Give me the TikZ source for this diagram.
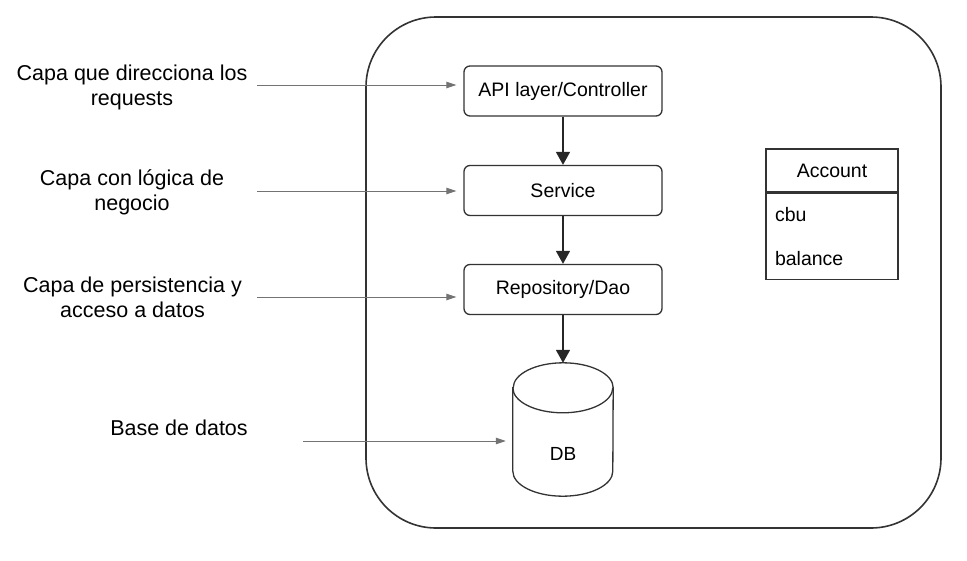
\documentclass[tikz,border=0pt]{standalone}
\usepackage{fontspec}
\setmainfont{Liberation Sans}
\usepackage{tikz}
\usetikzlibrary{arrows.meta,positioning}

\tikzset{
  layer/.style={draw=black!80, line width=1.3pt, rounded corners=6pt, minimum width=198pt, minimum height=50pt, font=\fontsize{19.5}{23}\selectfont},
  note/.style={align=center, font=\fontsize{21.5}{25.5}\selectfont},
  flow/.style={-{Triangle[length=13pt,width=14pt]}, line width=1.6pt, black!85},
  hint/.style={-{Triangle[length=10pt,width=6.5pt]}, line width=1pt, black!55, shorten >=7pt},
  entity/.style={draw=black!80, line width=1.3pt, minimum width=132pt, font=\fontsize{19.5}{23}\selectfont},
}

\begin{document}
\begin{tikzpicture}[x=1pt, y=-1pt]
        \useasboundingbox (0,0) rectangle (967,560);
        % Application frame
        \node[draw=black!80, line width=1.6pt, rounded corners=70pt, minimum width=575pt, minimum height=511pt] (app) at (653.5,272.5) {};

        % Layers
        \node[layer] (api) at (563,91) {API layer/Controller};
        \node[layer] (service) at (563,190.5) {Service};
        \node[layer] (repo) at (563,289.5) {Repository/Dao};

        % Database
        \node[minimum width=100pt, minimum height=133pt, inner sep=0pt] (db) at (563,429.5) {};
        \draw[black!80, line width=1.3pt] ([yshift=-25pt]db.north west) -- ([yshift=25pt]db.south west)
            arc (180:360:50pt and 25pt) -- ([yshift=-25pt]db.north east)
            arc (0:180:50pt and 25pt) -- cycle;
        \draw[black!80, line width=1.3pt] ([yshift=-25pt]db.north west) arc (180:360:50pt and 25pt);
        \node[font=\fontsize{19}{23}\selectfont] at ([yshift=-24pt]db.center) {DB};

        \draw[flow] (api) -- (service);
        \draw[flow] (service) -- (repo);
        \draw[flow] (repo) -- (db);

        % Account entity
        \node[entity, minimum height=43pt] (acc) at (832,170.5) {Account};
        \node[entity, below=0pt of acc, minimum height=86pt, inner xsep=9pt, text width=114pt, align=left, font=\fontsize{19.5}{44}\selectfont] (accfields) {cbu\\balance};

        % Labels
        \node[note] (l1) at (132,87.5) {Capa que direcciona los\\requests};
        \node[note] (l2) at (132,192.5) {Capa con lógica de\\negocio};
        \node[note] (l3) at (132.5,297.5) {Capa de persistencia y\\acceso a datos};
        \node[note] (l4) at (179,428) {Base de datos};

        \coordinate (s1) at (257,85);
        \coordinate (s2) at (257,191);
        \coordinate (s3) at (257,297);
        \coordinate (s4) at (303,441);
        \draw[hint] (s1) -- (s1 -| api.west);
        \draw[hint] (s2) -- (s2 -| service.west);
        \draw[hint] (s3) -- (s3 -| repo.west);
        \draw[hint] (s4) -- (s4 -| db.west);
    \end{tikzpicture}
\end{document}
